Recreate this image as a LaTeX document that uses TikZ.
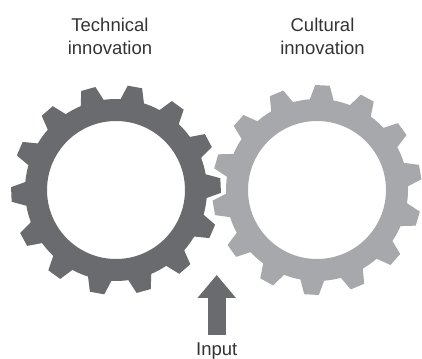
\documentclass[tikz,border=0pt]{standalone}
\usepackage{fontspec}
\setmainfont{Liberation Sans}
\usetikzlibrary{arrows.meta}
\definecolor{gearDark}{HTML}{6A6B6F}
\definecolor{gearLight}{HTML}{A7A8AC}
\definecolor{txtGray}{HTML}{333333}
\tikzset{
	lbl/.style={align=center, inner sep=0pt, text=txtGray, font=\fontsize{18.5}{23}\selectfont},
	inarrow/.style={draw=gearDark, line width=18pt, -{Triangle[length=23pt,width=37pt]}},
}
\begin{document}
\begin{tikzpicture}[x=1pt,y=1pt]
		\useasboundingbox (0,0) rectangle (422,358);

		\begin{scope}[shift={(116,168)}]
			\fill[gearDark, even odd rule] ({79.6-7.5}:91)
				\foreach \k [evaluate=\k as \ang using 79.6+\k*360/14] in {0,...,13} {
					-- ({\ang-4}:105) -- ({\ang+4}:105) -- ({\ang+7.5}:91)
					arc[start angle=\ang+7.5, end angle=\ang+360/14-7.5, radius=91]
				} -- cycle
				(0,0) circle[radius=69];
		\end{scope}

		\begin{scope}[shift={(317,168)}]
			\fill[gearLight, even odd rule] ({87-7.5}:91)
				\foreach \k [evaluate=\k as \ang using 87+\k*360/14] in {0,...,13} {
					-- ({\ang-4}:105) -- ({\ang+4}:105) -- ({\ang+7.5}:91)
					arc[start angle=\ang+7.5, end angle=\ang+360/14-7.5, radius=91]
				} -- cycle
				(0,0) circle[radius=69];
		\end{scope}

		\node[lbl, anchor=north] (tech) at (110, 339.7) {Technical\\innovation};
		\node[lbl, anchor=north] (cult) at (322.5, 339.7) {Cultural\\innovation};

		\node[lbl, anchor=base] (input) at (216.7, 3) {Input};
		\coordinate (mesh) at (216.7, 83);
		\draw[inarrow, shorten <=6.7pt] (input.north) -- (mesh);
	\end{tikzpicture}
\end{document}
